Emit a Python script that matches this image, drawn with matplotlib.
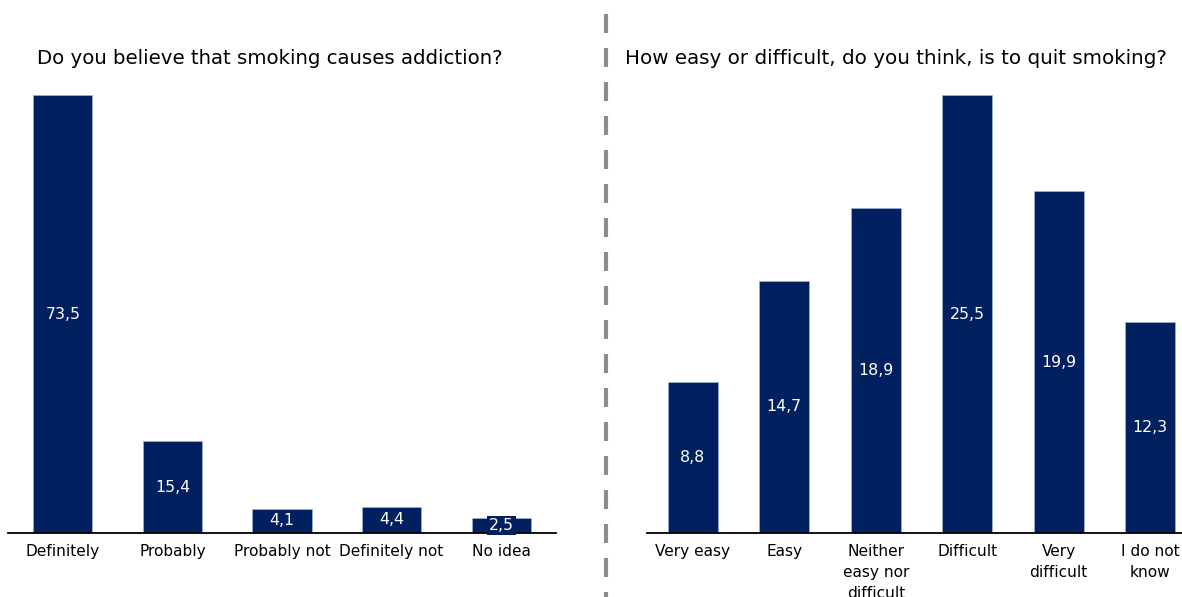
import matplotlib
matplotlib.use("Agg")
import matplotlib.pyplot as plt
import numpy as np

W, H = 1182, 597
NAVY = "#002060"

left_title = "Do you believe that smoking causes addiction?"
left_cats = ["Definitely", "Probably", "Probably not", "Definitely not", "No idea"]
left_vals = [73.5, 15.4, 4.1, 4.4, 2.5]

right_title = "How easy or difficult, do you think, is to quit smoking?"
right_cats = ["Very easy", "Easy", "Neither\neasy nor\ndifficult", "Difficult",
              "Very\ndifficult", "I do not\nknow"]
right_vals = [8.8, 14.7, 18.9, 25.5, 19.9, 12.3]


def px_axes(fig, x0, x1, ybot, ytop):
    return fig.add_axes([x0 / W, 1 - ybot / H, (x1 - x0) / W, (ybot - ytop) / H])


def draw(ax, cats, vals, width):
    x = np.arange(len(cats))
    ax.bar(x, vals, width=width, color=NAVY, edgecolor="#9db3d6", linewidth=0.5, zorder=2)
    for xi, v in zip(x, vals):
        ax.text(xi, v / 2, f"{v:.1f}".replace(".", ","), ha="center", va="center",
                color="white", fontsize=11.3, zorder=3,
                bbox=dict(boxstyle="square,pad=0.12", fc=NAVY, ec="none"))
    ax.set_xlim(-0.5, len(cats) - 0.5)
    ax.set_ylim(0, max(vals))
    ax.set_xticks(x)
    ax.set_xticklabels(cats, fontsize=11.1, linespacing=1.48)
    ax.tick_params(axis="x", length=0, pad=8)
    ax.set_yticks([])
    for s in ["top", "right", "left"]:
        ax.spines[s].set_visible(False)
    ax.spines["bottom"].set_linewidth(1.3)
    ax.spines["bottom"].set_color("black")
    ax.patch.set_alpha(0)


fig = plt.figure(figsize=(W / 100, H / 100), dpi=100)

ax1 = px_axes(fig, 8, 556, 533, 95)
draw(ax1, left_cats, left_vals, 0.54)
fig.text(37 / W, 1 - 58 / H, left_title, fontsize=14.2, va="center", ha="left")

ax2 = px_axes(fig, 647, 1196, 533, 95)
draw(ax2, right_cats, right_vals, 0.55)
fig.text(625 / W, 1 - 58 / H, right_title, fontsize=14.3, va="center", ha="left")

fig.add_artist(plt.Line2D([606 / W, 606 / W], [1 - 14 / H, 0], transform=fig.transFigure,
                          color="#8c8c8c", linewidth=3, linestyle=(0, (4.56, 3.6))))

fig.savefig("out.png", dpi=100)
